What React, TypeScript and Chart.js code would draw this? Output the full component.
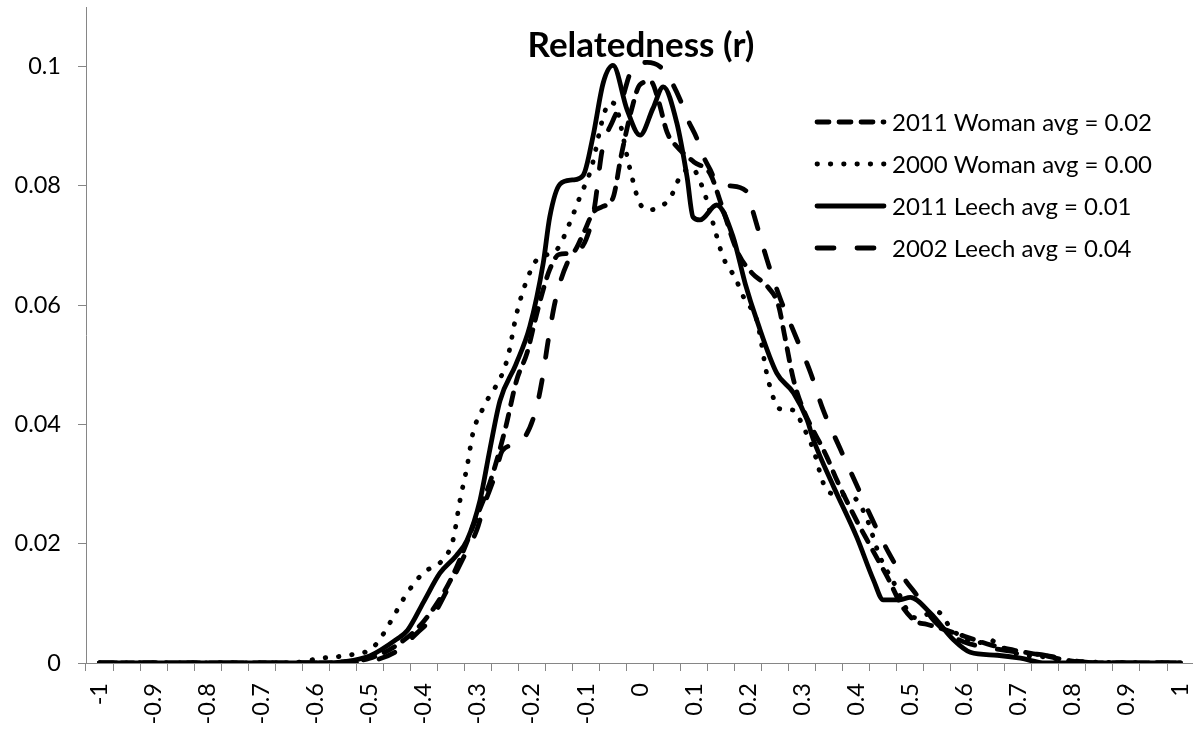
import { useEffect, useRef } from "react";
import { Chart, registerables } from "chart.js";

Chart.register(...registerables);

const FONT = "Lato, 'Open Sans', sans-serif";
const INK = "#000000";
const AXIS_GREY = "#868686";

// Chart title and legend entries
const chartTitle = "Relatedness (r)";
const seriesLabels = [
  "2011 Woman avg = 0.02",
  "2000 Woman avg = 0.00",
  "2011 Leech avg = 0.01",
  "2002 Leech avg = 0.04",
];

// Axis tick labels
const rTickLabels = [
  "-1", "-0.9", "-0.8", "-0.7", "-0.6", "-0.5", "-0.4", "-0.3", "-0.2", "-0.1",
  "0", "0.1", "0.2", "0.3", "0.4", "0.5", "0.6", "0.7", "0.8", "0.9", "1",
];
const densityTickLabels = ["0", "0.02", "0.04", "0.06", "0.08", "0.1"];

// 2011 Woman (short dashes)
const woman2011R = [
  -1, -0.6, -0.55, -0.5, -0.45, -0.4, -0.35, -0.3, -0.275, -0.25, -0.228, -0.209,
  -0.194, -0.181, -0.167, -0.15, -0.125, -0.105, -0.087, -0.07, -0.05, -0.035,
  -0.015, 0, 0.02, 0.035, 0.05, 0.068, 0.1, 0.13, 0.15, 0.18, 0.207, 0.237, 0.256,
  0.268, 0.284, 0.3, 0.346, 0.365, 0.4, 0.43, 0.46, 0.485, 0.51, 0.53, 0.55, 0.6,
  0.65, 0.7, 0.75, 0.8, 0.85, 1,
];
const woman2011Density = [
  0, 0, 0.0002, 0.0008, 0.003, 0.007, 0.014, 0.025, 0.031, 0.039, 0.0475, 0.052,
  0.0575, 0.062, 0.066, 0.0685, 0.0688, 0.072, 0.0755, 0.0765, 0.078, 0.085,
  0.093, 0.097, 0.0975, 0.094, 0.089, 0.0866, 0.084, 0.082, 0.077, 0.069, 0.0654, 0.063, 0.06,
  0.0547, 0.0475, 0.043, 0.0345, 0.0305, 0.024, 0.019, 0.014, 0.0095, 0.007, 0.0065, 0.006, 0.0045,
  0.003, 0.002, 0.0012, 0.0003, 0, 0,
];

// 2000 Woman (dotted)
const woman2000R = [
  -1, -0.65, -0.59, -0.54, -0.5, -0.485, -0.463, -0.431, -0.401, -0.365, -0.346,
  -0.333, -0.32, -0.309, -0.29, -0.246, -0.228, -0.209, -0.191, -0.154, -0.13,
  -0.111, -0.09, -0.068, -0.056, -0.045, -0.033, -0.024, -0.015, 0, 0.019, 0.037,
  0.056, 0.074, 0.095, 0.117, 0.135, 0.154, 0.176, 0.194, 0.216, 0.237, 0.259,
  0.284, 0.302, 0.321, 0.339, 0.352, 0.393, 0.417, 0.444, 0.467, 0.509, 0.55,
  0.578, 0.626, 0.648, 0.663, 0.7, 0.75, 0.8, 1,
];
const woman2000Density = [
  0, 0, 0.0008, 0.0013, 0.0022, 0.0035, 0.0067, 0.0117, 0.0151, 0.0173, 0.0206,
  0.0273, 0.0329, 0.0386, 0.0428, 0.0508, 0.0587, 0.0643, 0.0676, 0.0693, 0.0738,
  0.0782, 0.083, 0.0916, 0.094, 0.0935, 0.089, 0.085, 0.0815, 0.077, 0.076, 0.0765,
  0.078, 0.0815, 0.083, 0.0794, 0.0738, 0.068, 0.0646, 0.0609, 0.0575, 0.0475, 0.0426,
  0.0424, 0.0396, 0.0357, 0.0302, 0.0285, 0.0279, 0.0248, 0.0178, 0.0139, 0.0076, 0.0086,
  0.0055, 0.0034, 0.0039, 0.0029, 0.0015, 0.001, 0.0003, 0,
];

// 2011 Leech (solid)
const leech2011R = [
  -1, -0.6, -0.55, -0.5, -0.45, -0.43, -0.4, -0.37, -0.34, -0.32, -0.296, -0.278,
  -0.259, -0.23, -0.204, -0.179, -0.167, -0.148, -0.125, -0.105, -0.087, -0.068,
  -0.05, -0.024, 0, 0.024, 0.043, 0.068, 0.087, 0.098, 0.111, 0.142, 0.172, 0.195,
  0.216, 0.253, 0.284, 0.309, 0.321, 0.358, 0.401, 0.432, 0.45, 0.481, 0.5, 0.537,
  0.58, 0.611, 0.661, 0.704, 0.75, 1,
];
const leech2011Density = [
  0, 0, 0.0002, 0.0012, 0.004, 0.0055, 0.0103, 0.0151, 0.018, 0.0206, 0.0273, 0.0357,
  0.044, 0.05, 0.0564, 0.0671, 0.0748, 0.0803, 0.081, 0.0818, 0.0883, 0.0973,
  0.1002, 0.0928, 0.0885, 0.093, 0.0966, 0.0906, 0.0815, 0.0748, 0.0743, 0.0768, 0.0715, 0.0635,
  0.0575, 0.0486, 0.0453, 0.0408, 0.0374, 0.0296, 0.0211, 0.0139, 0.0106, 0.0106, 0.011, 0.0084,
  0.0039, 0.0018, 0.0013, 0.0008, 0, 0,
];

// 2002 Leech (long dashes)
const leech2002R = [
  -1, -0.55, -0.5, -0.45, -0.413, -0.385, -0.352, -0.326, -0.302, -0.287, -0.27,
  -0.254, -0.222, -0.194, -0.181, -0.17, -0.157, -0.135, -0.1, -0.085, -0.07, -0.05,
  -0.035, -0.015, 0.013, 0.037, 0.056, 0.074, 0.089, 0.105, 0.117, 0.13, 0.142,
  0.167, 0.198, 0.209, 0.235, 0.259, 0.287, 0.315, 0.339, 0.37, 0.4, 0.43, 0.46,
  0.49, 0.515, 0.54, 0.57, 0.6, 0.65, 0.7, 0.75, 0.8, 0.85, 1,
];
const leech2002Density = [
  0, 0, 0.0003, 0.002, 0.005, 0.0076, 0.0131, 0.0178, 0.0223, 0.0268, 0.031,
  0.0357, 0.037, 0.042, 0.0475, 0.054, 0.0606, 0.067, 0.071, 0.076, 0.086, 0.091,
  0.094, 0.0995, 0.1007, 0.1, 0.0978, 0.0945, 0.091, 0.088, 0.085, 0.0827, 0.0805,
  0.08, 0.079, 0.0757, 0.0676, 0.0612, 0.055, 0.0488, 0.0424, 0.036, 0.03, 0.024, 0.0185,
  0.014, 0.011, 0.0075, 0.005, 0.0035, 0.0025, 0.0018, 0.0013, 0.0004, 0, 0,
];

const seriesR = [woman2011R, woman2000R, leech2011R, leech2002R];
const seriesDensity = [woman2011Density, woman2000Density, leech2011Density, leech2002Density];
const seriesDash: number[][] = [[12, 10], [0.5, 12.8], [], [17, 23]];

const LINE_WIDTH = 4.8;

const toPoints = (xs: number[], ys: number[]) => xs.map((x, i) => ({ x, y: ys[i] }));

const labelValue = (s: string) => parseFloat(s);

// title and legend drawn over the plot area
const overlayPlugin = {
  id: "overlay",
  afterDraw(chart: any) {
    const ctx = chart.ctx as CanvasRenderingContext2D;
    ctx.save();
    ctx.fillStyle = INK;
    ctx.font = `bold 35px ${FONT}`;
    ctx.textAlign = "center";
    ctx.textBaseline = "alphabetic";
    ctx.fillText(chartTitle, 641, 57);

    const x0 = 817;
    const x1 = 884;
    const top = 122;
    const gap = 42;
    chart.data.datasets.forEach((ds: any, i: number) => {
      const y = top + gap * i;
      ctx.beginPath();
      ctx.setLineDash(ds.borderDash || []);
      ctx.lineCap = "round";
      ctx.lineWidth = LINE_WIDTH;
      ctx.strokeStyle = INK;
      ctx.moveTo(x0, y);
      ctx.lineTo(x1, y);
      ctx.stroke();
      ctx.setLineDash([]);
      ctx.font = `24px ${FONT}`;
      ctx.textAlign = "left";
      ctx.textBaseline = "middle";
      ctx.fillText(ds.label, 892, y + 1);
    });
    ctx.restore();
  },
};

export default function App() {
  const ref = useRef<HTMLCanvasElement>(null);

  useEffect(() => {
    const canvas = ref.current;
    if (!canvas) return;

    const xTickValues: number[] = [];
    rTickLabels.forEach((s, i) => {
      const v = labelValue(s);
      xTickValues.push(v);
      if (i < rTickLabels.length - 1) xTickValues.push(v + 0.05);
    });

    const chart = new Chart(canvas, {
      type: "line",
      data: {
        datasets: seriesLabels.map((label, i) => ({
          label,
          data: toPoints(seriesR[i], seriesDensity[i]),
          borderColor: INK,
          backgroundColor: INK,
          borderWidth: LINE_WIDTH,
          borderDash: seriesDash[i],
          borderCapStyle: "round" as const,
          borderJoinStyle: "round" as const,
          pointRadius: 0,
          pointHoverRadius: 0,
          fill: false,
          cubicInterpolationMode: "monotone" as const,
        })),
      },
      options: {
        responsive: false,
        animation: false,
        layout: { padding: { left: 0, right: 0, top: 7, bottom: 0 } },
        plugins: {
          legend: { display: false },
          title: { display: false },
          tooltip: { enabled: false },
        },
        scales: {
          x: {
            type: "linear",
            min: -1.025,
            max: 1.0231,
            grid: {
              display: true,
              drawOnChartArea: false,
              drawTicks: true,
              tickLength: 8,
              offset: true,
              color: AXIS_GREY,
              lineWidth: 1,
            },
            border: { display: true, color: AXIS_GREY, width: 1 },
            ticks: {
              autoSkip: false,
              minRotation: 90,
              maxRotation: 90,
              padding: 12,
              color: INK,
              font: { family: FONT, size: 23.5 },
              callback: (value: any) => {
                const hit = rTickLabels.find((s) => Math.abs(labelValue(s) - Number(value)) < 1e-6);
                return hit ?? "";
              },
            },
            afterBuildTicks: (scale: any) => {
              scale.ticks = xTickValues.map((v) => ({ value: v }));
            },
            afterFit: (scale: any) => {
              scale.height = 73;
              scale.paddingLeft = 0;
              scale.paddingRight = 0;
            },
          },
          y: {
            type: "linear",
            min: 0,
            max: 0.11,
            grid: {
              display: true,
              drawOnChartArea: false,
              drawTicks: true,
              tickLength: 8,
              color: AXIS_GREY,
              lineWidth: 1,
            },
            border: { display: true, color: AXIS_GREY, width: 1 },
            ticks: {
              padding: 17,
              color: INK,
              font: { family: FONT, size: 23.5 },
              callback: (value: any) => {
                const hit = densityTickLabels.find((s) => Math.abs(labelValue(s) - Number(value)) < 1e-9);
                return hit ?? "";
              },
            },
            afterBuildTicks: (scale: any) => {
              scale.ticks = densityTickLabels.map((s) => ({ value: labelValue(s) }));
            },
            afterFit: (scale: any) => {
              scale.width = 86;
              scale.paddingTop = 0;
              scale.paddingBottom = 0;
            },
          },
        },
      },
      plugins: [overlayPlugin],
    });

    return () => chart.destroy();
  }, []);

  return (
    <div
      style={{
        position: "fixed",
        left: 0,
        top: 0,
        width: 1193,
        height: 736,
        background: "#ffffff",
      }}
    >
      <canvas ref={ref} width={1193} height={736} style={{ display: "block" }} />
    </div>
  );
}
